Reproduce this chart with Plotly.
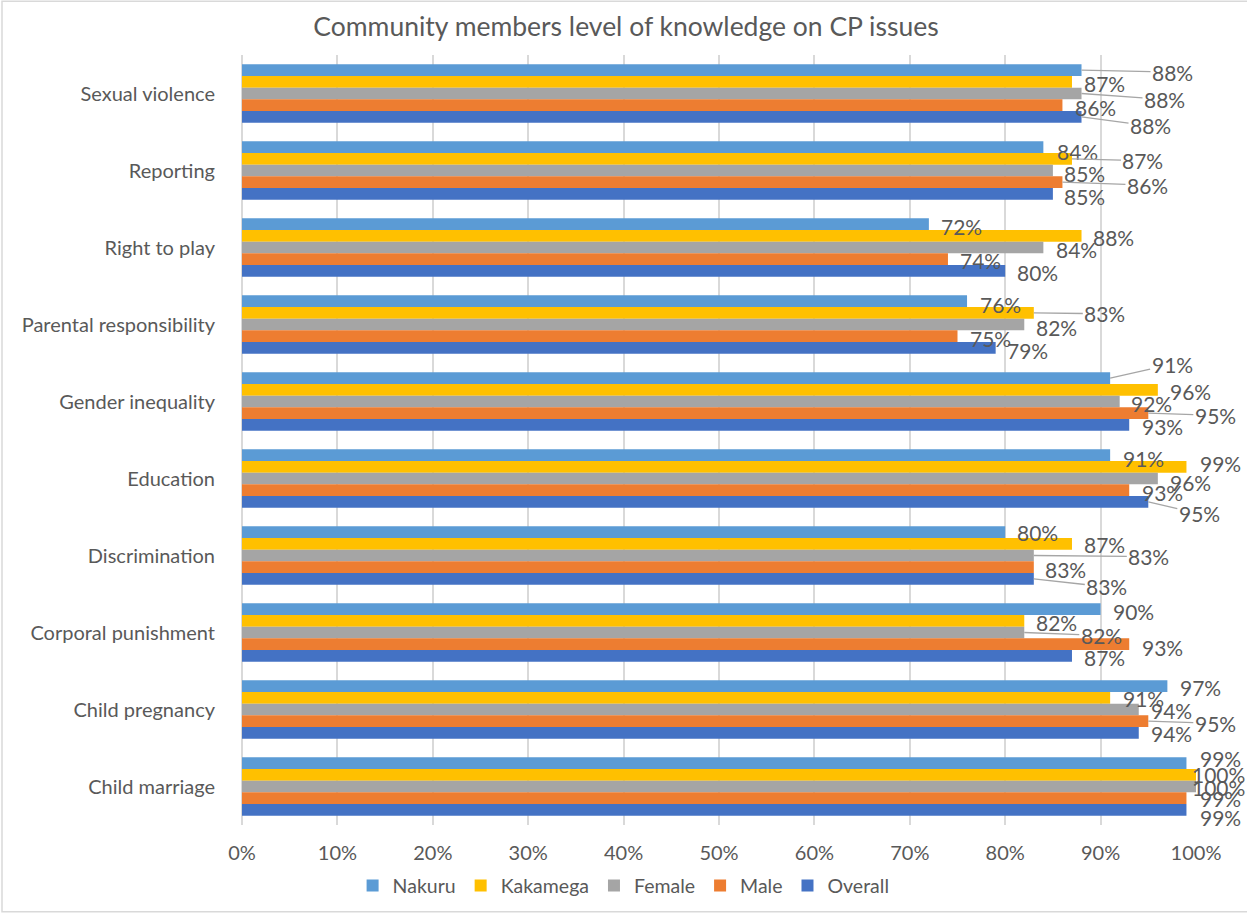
import plotly.graph_objects as go

# ---------------- data ----------------
categories = ["Sexual violence", "Reporting", "Right to play", "Parental responsibility",
              "Gender inequality", "Education", "Discrimination", "Corporal punishment",
              "Child pregnancy", "Child marriage"]

series_names = ["Nakuru", "Kakamega", "Female", "Male", "Overall"]

nakuru   = [88, 84, 72, 76, 91, 91, 80, 90, 97, 99]
kakamega = [87, 87, 88, 83, 96, 99, 87, 82, 91, 100]
female   = [88, 85, 84, 82, 92, 96, 83, 82, 94, 100]
male     = [86, 86, 74, 75, 95, 93, 83, 93, 95, 99]
overall  = [88, 85, 80, 79, 93, 95, 83, 87, 94, 99]

x_ticks = list(range(0, 101, 10))
x_tick_labels = [f"{t}%" for t in x_ticks]

# ---------------- styling ----------------
colors = ["#5B9BD5", "#FFC000", "#A5A5A5", "#ED7D31", "#4472C4"]
FONT = "Lato"
TXT = "#595959"

# label placement (pixel offsets from bar end), mimicking Excel's label layout
lab_dx = [
    [91, 34, 33, 33, 62, 33, 32, 33, 33, 34],
    [33, 71, 32, 71, 33, 34, 33, 32, 33, 22],
    [83, 32, 33, 32, 32, 33, 115, 77, 33, 22],
    [33, 85, 33, 33, 67, 33, 32, 33, 67, 34],
    [69, 32, 32, 32, 33, 51, 73, 33, 33, 34],
]
lab_dy = [
    [2, 4, 2, 3, -14, 3, 0, 2, 1, -5],
    [2, 2, 2, 1, 2, -3, 1, 2, 1, 0],
    [6, 3, 2, 3, 2, 4, 1, 3, 1, 1],
    [2, 3, 1, 2, 2, 2, 2, 3, 2, 0],
    [9, 3, 2, 3, 2, 12, 8, 2, 1, 8],
]
leader = [
    [1, 0, 0, 0, 1, 0, 0, 0, 0, 0],
    [0, 1, 0, 1, 0, 0, 0, 0, 0, 0],
    [1, 0, 0, 0, 0, 0, 1, 1, 0, 0],
    [0, 1, 0, 0, 1, 0, 0, 0, 1, 0],
    [1, 0, 0, 0, 0, 1, 1, 0, 0, 0],
]

all_values = [nakuru, kakamega, female, male, overall]
BARGAP = 0.24
n_series = len(all_values)
bw = (1 - BARGAP) / n_series

fig = go.Figure()
for name, vals, col in zip(series_names, all_values, colors):
    fig.add_trace(go.Bar(
        y=categories, x=vals, name=name, orientation="h",
        marker=dict(color=col, line=dict(width=0)),
    ))

annotations = []
for j, vals in enumerate(all_values):
    off = -(1 - BARGAP) / 2 + (j + 0.5) * bw
    for k, v in enumerate(vals):
        common = dict(x=v, y=k + off, xref="x", yref="y", text=f"{v}%",
                      font=dict(family=FONT, size=21, color=TXT),
                      xanchor="center", yanchor="middle")
        if leader[j][k]:
            annotations.append(dict(**common, showarrow=True, arrowhead=0,
                                    arrowwidth=1.3, arrowcolor="#A6A6A6",
                                    ax=lab_dx[j][k], ay=lab_dy[j][k], standoff=0))
        else:
            annotations.append(dict(**common, showarrow=False,
                                    xshift=lab_dx[j][k], yshift=-lab_dy[j][k]))

W, H = 1247, 917
L, R, T, B = 242, 1196, 55, 828

fig.update_layout(
    width=W, height=H,
    margin=dict(l=L, r=W - R, t=T, b=H - B, pad=0),
    paper_bgcolor="white", plot_bgcolor="white",
    barmode="group", bargap=BARGAP, bargroupgap=0,
    title=dict(text="Community members level of knowledge on CP issues",
               x=(626 - L) / (R - L) * (R - L) / W + L / W, xanchor="center",
               y=1 - 27 / H, yanchor="middle",
               font=dict(family=FONT, size=26.5, color=TXT)),
    font=dict(family=FONT, size=20, color=TXT),
    xaxis=dict(range=[0, 100], tickmode="array", tickvals=x_ticks, ticktext=x_tick_labels,
               showgrid=True, gridcolor="#D9D9D9", gridwidth=1.5,
               zeroline=True, zerolinecolor="#D9D9D9", zerolinewidth=1.5,
               showline=False, ticks="", ticklabelstandoff=14,
               tickfont=dict(family=FONT, size=20, color=TXT), fixedrange=True),
    yaxis=dict(range=[len(categories) - 0.5, -0.5], type="category",
               showgrid=False, zeroline=False, showline=False, ticks="",
               ticklabelstandoff=26,
               tickfont=dict(family=FONT, size=20, color=TXT), fixedrange=True),
    legend=dict(orientation="h", x=0.40, xanchor="center", y=-(889 - B) / (B - T),
                yanchor="middle", font=dict(family=FONT, size=19.5, color=TXT),
                itemwidth=30, traceorder="normal"),
    annotations=annotations,
    shapes=[dict(type="rect", xref="paper", yref="paper",
                 x0=(2 - L) / (R - L), x1=(1260 - L) / (R - L),
                 y0=(B - 915) / (B - T), y1=(B - 1) / (B - T),
                 line=dict(color="#D9D9D9", width=1.5), fillcolor="rgba(0,0,0,0)",
                 layer="below")],
)

fig.write_html("out.html", config={"displayModeBar": False},
               post_script="document.body.style.margin='0';document.body.style.overflow='hidden';")
